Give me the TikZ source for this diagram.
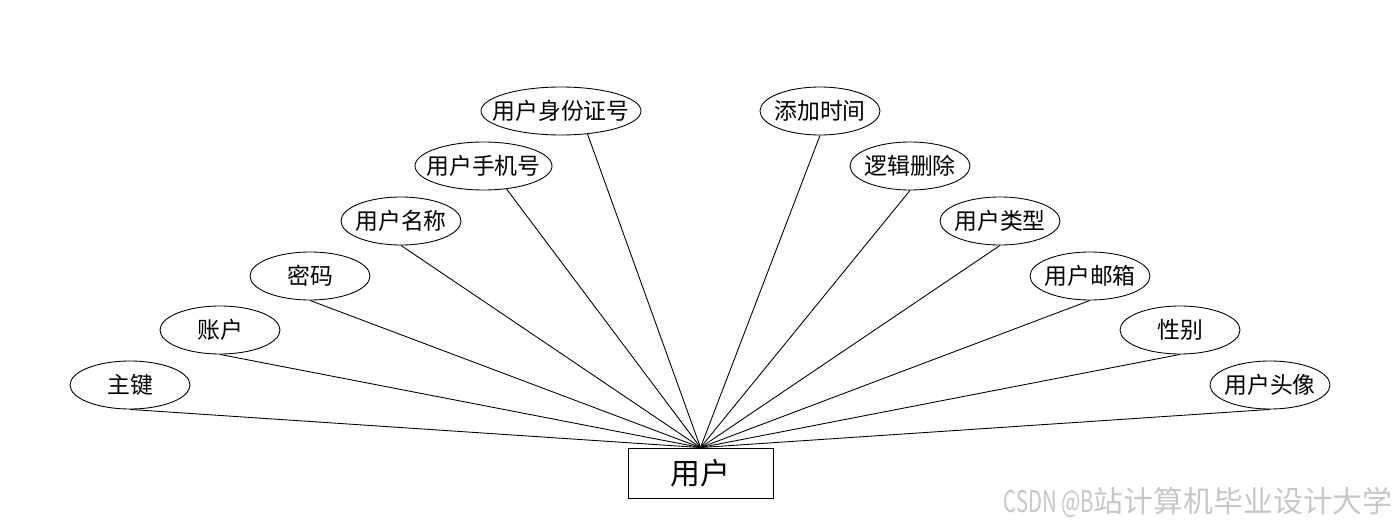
\documentclass[tikz,border=0pt]{standalone}
\usepackage{fontspec}
\usepackage{tikz}
\usepackage{graphicx}
\usetikzlibrary{shapes.geometric}
\newfontfamily\cjk{Noto Sans CJK SC}
\newcommand{\attrtext}[1]{\makebox[0pt]{#1}}
\tikzset{
  attr/.style={ellipse, draw, line width=.5pt, inner sep=0pt, minimum height=.96cm,
    font=\cjk\fontsize{13}{15}\selectfont},
  entity/.style={rectangle, draw, line width=.5pt, minimum width=2.9cm, minimum height=1cm,
    font=\cjk\fontsize{17}{20}\selectfont}
}

\begin{document}
\begin{tikzpicture}
\useasboundingbox (0,0) rectangle (28,10.56);
\node[entity] (yh) at (14.01,1.1) {用户};
% attributes, left and right fan
\foreach \nm/\x/\y/\w/\txt in {zj/2.6/2.86/2.4/主键, zh/4.4/3.96/2.4/账户, mm/6.2/5.04/2.4/密码,
  mc/8.02/6.14/2.4/用户名称, sj/9.67/7.24/2.74/用户手机号, sfz/11.22/8.34/3.2/用户身份证号,
  tj/16.4/8.34/2.4/添加时间, sc/18.2/7.24/2.4/逻辑删除, lx/20.0/6.14/2.4/用户类型,
  yx/21.8/5.04/2.4/用户邮箱, xb/23.6/3.96/2.4/性别, tx/25.4/2.86/2.4/用户头像} {
  \node[attr, minimum width=\w cm] (\nm) at (\x,\y) {\attrtext{\txt}};
}
\foreach \a in {zj.south, zh.south, mm.south, mc.south, sj.-45, sfz.-41,
  tj.south, sc.south, lx.south, yx.south, xb.south, tx.south} {
  \draw[line width=.5pt] (\a) -- (yh.north);
}
\node[anchor=east, text=black!22, font=\cjk\fontsize{17}{20}\selectfont, inner sep=0pt] (wm) at (27.86,0.52) {\scalebox{0.68}[1]{CSDN @B}站计算机毕业设计大学};
\end{tikzpicture}
\end{document}
